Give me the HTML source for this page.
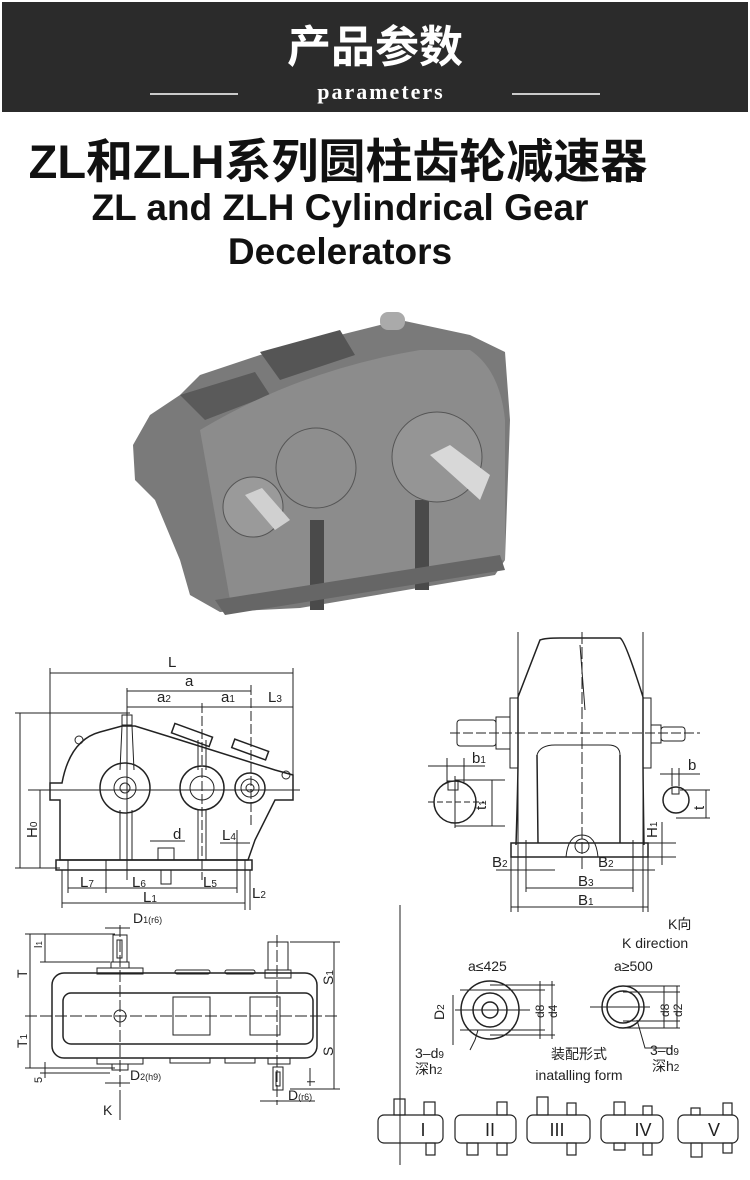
<!DOCTYPE html>
<html><head><meta charset="utf-8"><style>
html,body{margin:0;padding:0;background:#fff;}
svg{display:block;}
text{font-family:"Liberation Sans","Noto Sans CJK SC",sans-serif;fill:#222;}
</style></head><body>
<svg width="750" height="1180" viewBox="0 0 750 1180" xmlns="http://www.w3.org/2000/svg">
<rect x="0" y="0" width="750" height="1180" fill="#fff"/>
<!-- header -->
<rect x="2" y="2" width="746" height="110" fill="#2b2b2b"/>
<text x="375" y="62" text-anchor="middle" font-size="44" font-weight="bold" style="fill:#fff;font-family:'Noto Sans CJK SC',sans-serif">产品参数</text>
<text x="381" y="99" text-anchor="middle" font-size="22" font-weight="bold" letter-spacing="2" style="fill:#fff;font-family:'Liberation Serif',serif">parameters</text>
<line x1="150" y1="94" x2="238" y2="94" stroke="#fff" stroke-width="1.5"/>
<line x1="512" y1="94" x2="600" y2="94" stroke="#fff" stroke-width="1.5"/>
<!-- titles -->
<text x="338" y="178" text-anchor="middle" font-size="47" font-weight="bold" style="fill:#111;font-family:'Liberation Sans','Noto Sans CJK SC',sans-serif">ZL和ZLH系列圆柱齿轮减速器</text>
<text x="340" y="220" text-anchor="middle" font-size="37" font-weight="bold" style="fill:#111">ZL and ZLH Cylindrical Gear</text>
<text x="340" y="264" text-anchor="middle" font-size="37" font-weight="bold" style="fill:#111">Decelerators</text>
<!-- gearbox photo -->
<g>
<polygon points="133,445 150,415 180,395 200,375 260,355 300,345 380,325 400,320 470,335 505,352 510,420 505,560 495,575 300,608 220,612 190,595 180,560 155,500 135,480" fill="#7a7a7a"/>
<polygon points="180,395 255,372 270,395 205,420" fill="#5a5a5a"/>
<polygon points="260,352 340,330 355,355 280,380" fill="#555"/>
<path d="M200,430 Q300,370 420,350 L470,350 Q500,370 505,420 L505,560 L230,600 Z" fill="#8c8c8c"/>
<rect x="310" y="520" width="14" height="90" fill="#4a4a4a"/>
<rect x="415" y="500" width="14" height="90" fill="#4a4a4a"/>
<polygon points="215,600 500,555 505,570 225,615" fill="#666"/>
<circle cx="253" cy="507" r="30" fill="#9a9a9a" stroke="#555"/>
<circle cx="316" cy="468" r="40" fill="#8e8e8e" stroke="#555"/>
<circle cx="437" cy="457" r="45" fill="#959595" stroke="#555"/>
<polygon points="245,495 262,488 290,520 275,530" fill="#d0d0d0"/>
<polygon points="430,455 450,445 490,475 480,500" fill="#d8d8d8"/>
<rect x="380" y="312" width="25" height="18" rx="8" fill="#aaa"/>
</g>
<!-- ===== side view ===== -->
<g stroke="#222" stroke-width="1" fill="none">
<line x1="50" y1="673" x2="293" y2="673"/>
<line x1="127" y1="691" x2="251" y2="691"/>
<line x1="127" y1="707" x2="293" y2="707"/>
<line x1="50" y1="668" x2="50" y2="790"/>
<line x1="293" y1="668" x2="293" y2="800"/>
<line x1="127" y1="688" x2="127" y2="880"/>
<line x1="202" y1="703" x2="202" y2="880" stroke-dasharray="10,3"/>
<line x1="251" y1="685" x2="251" y2="825" stroke-dasharray="10,3"/>
<line x1="15" y1="713" x2="130" y2="713"/>
<line x1="20" y1="713" x2="20" y2="868"/>
<line x1="40" y1="790" x2="40" y2="868"/>
<line x1="15" y1="868" x2="60" y2="868"/>
<line x1="28" y1="790" x2="300" y2="790"/>
<path d="M50,800 L50,783 L62,783 Q70,740 100,732 L122,726 L135,726 L180,740 L275,770 L293,775 L293,800 L275,800 Q265,820 255,840 L248,860 L60,860 L60,800 Z" stroke-width="1.5"/>
<rect x="56" y="860" width="196" height="10" stroke-width="1.5"/>
<rect x="122" y="715" width="10" height="10"/>
<path d="M122,726 L120,770 M132,726 L134,770 M120,810 L120,860 M132,810 L132,860 M198,740 L198,770 M206,740 L206,770 M198,810 L198,860 M206,810 L206,860"/>
<rect x="172" y="730" width="40" height="10" transform="rotate(20 192 735)" stroke-width="1.5"/>
<rect x="232" y="745" width="36" height="9" transform="rotate(20 250 750)" stroke-width="1.5"/>
<circle cx="125" cy="788" r="25" stroke-width="1.5"/><circle cx="125" cy="788" r="11"/><circle cx="125" cy="788" r="5"/>
<circle cx="202" cy="788" r="22" stroke-width="1.5"/><circle cx="202" cy="788" r="12"/>
<circle cx="250" cy="788" r="15" stroke-width="1.5"/><circle cx="250" cy="788" r="9"/><circle cx="250" cy="788" r="4"/>
<circle cx="79" cy="740" r="4"/><circle cx="286" cy="775" r="4"/>
<rect x="158" y="848" width="16" height="12"/><rect x="161" y="870" width="10" height="14"/>
<line x1="68" y1="888" x2="237" y2="888"/>
<line x1="62" y1="903" x2="245" y2="903"/>
<line x1="68" y1="860" x2="68" y2="893"/><line x1="106" y1="860" x2="106" y2="893"/>
<line x1="237" y1="830" x2="237" y2="893"/><line x1="245" y1="860" x2="245" y2="910"/>
<line x1="62" y1="870" x2="62" y2="908"/><line x1="250" y1="870" x2="250" y2="910"/>
<line x1="150" y1="841" x2="185" y2="841"/><line x1="220" y1="843" x2="250" y2="843"/>
</g>
<g font-size="15">
<text x="168" y="667">L</text><text x="185" y="686">a</text>
<text x="157" y="702">a<tspan font-size="10">2</tspan></text><text x="221" y="702">a<tspan font-size="10">1</tspan></text><text x="268" y="702">L<tspan font-size="10">3</tspan></text>
<text x="173" y="839">d</text><text x="222" y="840">L<tspan font-size="10">4</tspan></text>
<text x="80" y="887">L<tspan font-size="10">7</tspan></text><text x="132" y="887">L<tspan font-size="10">6</tspan></text><text x="203" y="887">L<tspan font-size="10">5</tspan></text>
<text x="143" y="902">L<tspan font-size="10">1</tspan></text><text x="252" y="898">L<tspan font-size="10">2</tspan></text>
<text transform="translate(37,838) rotate(-90)">H<tspan font-size="10">0</tspan></text>
</g>
<!-- ===== front view ===== -->
<g stroke="#222" stroke-width="1" fill="none">
<line x1="518" y1="632" x2="518" y2="912"/><line x1="643" y1="632" x2="643" y2="912"/>
<path d="M518,697 L540,640 Q545,638 560,638 L620,638 Q625,640 643,697" stroke-width="1.5"/>
<path d="M518,697 L518,760 Q518,780 516,845 M643,697 L643,760 Q643,780 644,845" stroke-width="1.5"/>
<path d="M537,755 L538,843 M620,755 L620,843" stroke-width="1.5"/>
<path d="M537,755 Q540,745 555,745 L608,745 Q620,745 620,755"/>
<rect x="511" y="843" width="137" height="14" stroke-width="1.5"/>
<path d="M566,857 Q568,835 582,835 Q596,835 598,857"/><circle cx="582" cy="846" r="7"/>
<rect x="510" y="698" width="8" height="70"/><rect x="643" y="698" width="8" height="70"/>
<rect x="496" y="717" width="14" height="32"/><rect x="457" y="720" width="39" height="26" rx="3"/>
<rect x="651" y="725" width="10" height="18"/><rect x="661" y="727" width="24" height="14" rx="3"/>
<line x1="450" y1="733" x2="700" y2="733" stroke-dasharray="10,3"/>
<line x1="582" y1="632" x2="582" y2="870" stroke-dasharray="12,3"/>
<line x1="580" y1="645" x2="585" y2="710"/>
<circle cx="455" cy="802" r="21" stroke-width="1.5"/>
<circle cx="676" cy="800" r="13" stroke-width="1.5"/>
<path d="M448,781 L458,781 L458,790 L448,790 Z M672,787 L679,787 L679,794 L672,794 Z"/>
<line x1="428" y1="802" x2="484" y2="802" stroke-dasharray="6,3"/>
<line x1="455" y1="776" x2="455" y2="828"/>
<line x1="428" y1="766" x2="485" y2="766"/><line x1="447" y1="758" x2="447" y2="782"/><line x1="464" y1="758" x2="464" y2="782"/>
<line x1="492" y1="780" x2="492" y2="826"/><line x1="455" y1="780" x2="505" y2="780"/><line x1="455" y1="826" x2="505" y2="826"/>
<line x1="660" y1="774" x2="700" y2="774"/><line x1="672" y1="768" x2="672" y2="786"/><line x1="679" y1="768" x2="679" y2="786"/>
<line x1="706" y1="790" x2="706" y2="818"/><line x1="680" y1="790" x2="710" y2="790"/><line x1="676" y1="818" x2="710" y2="818"/>
<line x1="662" y1="822" x2="662" y2="865"/><line x1="648" y1="843" x2="676" y2="843"/><line x1="648" y1="857" x2="676" y2="857"/>
<line x1="496" y1="870" x2="555" y2="870"/><line x1="600" y1="870" x2="655" y2="870"/>
<line x1="526" y1="888" x2="633" y2="888"/><line x1="526" y1="840" x2="526" y2="892"/><line x1="633" y1="840" x2="633" y2="892"/>
<line x1="511" y1="907" x2="648" y2="907"/><line x1="511" y1="857" x2="511" y2="912"/><line x1="648" y1="857" x2="648" y2="912"/>
</g>
<g font-size="15">
<text x="472" y="763">b<tspan font-size="10">1</tspan></text><text x="688" y="770">b</text>
<text transform="translate(486,810) rotate(-90)">t<tspan font-size="10">1</tspan></text>
<text transform="translate(704,810) rotate(-90)">t</text>
<text transform="translate(657,838) rotate(-90)">H<tspan font-size="10">1</tspan></text>
<text x="492" y="867">B<tspan font-size="10">2</tspan></text><text x="598" y="867">B<tspan font-size="10">2</tspan></text>
<text x="578" y="886">B<tspan font-size="10">3</tspan></text><text x="578" y="905">B<tspan font-size="10">1</tspan></text>
</g>
<!-- ===== top view ===== -->
<g stroke="#222" stroke-width="1" fill="none">
<rect x="52" y="973" width="265" height="85" rx="12" stroke-width="1.5"/>
<rect x="63" y="993" width="250" height="51" rx="8" stroke-width="1.5"/>
<line x1="25" y1="1016" x2="340" y2="1016" stroke-dasharray="12,3"/>
<rect x="97" y="968" width="46" height="6"/><rect x="111" y="962" width="18" height="6"/>
<rect x="113" y="935" width="14" height="27"/><rect x="117" y="940" width="5" height="18"/>
<rect x="268" y="942" width="20" height="28"/><rect x="265" y="970" width="26" height="8"/>
<rect x="175" y="970" width="35" height="4" rx="2"/><rect x="225" y="970" width="30" height="4" rx="2"/>
<rect x="97" y="1058" width="46" height="6"/><rect x="112" y="1064" width="16" height="6"/>
<rect x="268" y="1058" width="22" height="6"/><rect x="273" y="1067" width="10" height="23"/><rect x="276" y="1072" width="4" height="14"/>
<rect x="170" y="1058" width="40" height="5"/><rect x="225" y="1058" width="30" height="5"/>
<circle cx="120" cy="1016" r="6"/>
<rect x="173" y="997" width="37" height="38"/><rect x="250" y="997" width="30" height="38"/>
<line x1="120" y1="925" x2="120" y2="1120" stroke-dasharray="12,3"/>
<line x1="277" y1="935" x2="277" y2="1105" stroke-dasharray="12,3"/>
<line x1="25" y1="934" x2="115" y2="934"/><line x1="25" y1="1068" x2="115" y2="1068"/>
<line x1="30" y1="934" x2="30" y2="1068"/><line x1="45" y1="934" x2="45" y2="962"/><line x1="40" y1="962" x2="110" y2="962"/>
<line x1="45" y1="1062" x2="45" y2="1078"/><line x1="40" y1="1073" x2="110" y2="1073"/>
<line x1="290" y1="942" x2="340" y2="942"/><line x1="290" y1="1089" x2="340" y2="1089"/>
<line x1="334" y1="942" x2="334" y2="1089"/>
<line x1="105" y1="928" x2="130" y2="928"/><line x1="105" y1="1083" x2="130" y2="1083"/>
<line x1="260" y1="1101" x2="315" y2="1101"/><line x1="310" y1="1068" x2="310" y2="1086"/>
<line x1="120" y1="1100" x2="120" y2="1120"/>
</g>
<g font-size="14">
<text x="133" y="923">D<tspan font-size="9">1(r6)</tspan></text>
<text x="130" y="1080">D<tspan font-size="9">2(h9)</tspan></text>
<text x="288" y="1100">D<tspan font-size="9">(r6)</tspan></text>
<text x="103" y="1115">K</text>
<text transform="translate(27,978) rotate(-90)">T</text>
<text transform="translate(27,1048) rotate(-90)">T<tspan font-size="10">1</tspan></text>
<text transform="translate(42,948) rotate(-90)" font-size="11">l<tspan font-size="8">1</tspan></text>
<text transform="translate(42,1083) rotate(-90)" font-size="11">5</text>
<text transform="translate(333,985) rotate(-90)">S<tspan font-size="10">1</tspan></text>
<text transform="translate(333,1056) rotate(-90)">S</text>
<text transform="translate(315,1083) rotate(-90)" font-size="11">l</text>
</g>
<!-- ===== K direction ===== -->
<g stroke="#222" stroke-width="1" fill="none">
<line x1="400" y1="905" x2="400" y2="1165"/>
<circle cx="490" cy="1010" r="29" stroke-width="1.5"/><circle cx="490" cy="1010" r="17" stroke-width="1.5"/><circle cx="490" cy="1010" r="8" stroke-width="1.5"/>
<line x1="455" y1="1010" x2="530" y2="1010"/>
<line x1="490" y1="985" x2="555" y2="985"/><line x1="490" y1="1035" x2="555" y2="1035"/>
<line x1="460" y1="990" x2="545" y2="990"/><line x1="460" y1="1030" x2="545" y2="1030"/>
<line x1="540" y1="981" x2="540" y2="1039"/><line x1="552" y1="981" x2="552" y2="1039"/>
<line x1="453" y1="995" x2="453" y2="1045"/>
<path d="M470,1050 L475,1040 L478,1030" />
<circle cx="623" cy="1007" r="21" stroke-width="1.5"/><circle cx="623" cy="1007" r="16" stroke-width="1.5"/>
<line x1="590" y1="1007" x2="650" y2="1007"/>
<line x1="623" y1="992" x2="680" y2="992"/><line x1="623" y1="1021" x2="680" y2="1021"/>
<line x1="623" y1="986" x2="680" y2="986"/><line x1="623" y1="1028" x2="680" y2="1028"/>
<line x1="664" y1="986" x2="664" y2="1028"/><line x1="677" y1="986" x2="677" y2="1028"/>
<path d="M637,1020 L645,1048 L672,1048"/>
</g>
<g font-size="14">
<text x="668" y="929">K向</text>
<text x="622" y="948">K direction</text>
<text x="468" y="971">a≤425</text><text x="614" y="971">a≥500</text>
<text transform="translate(444,1020) rotate(-90)">D<tspan font-size="10">2</tspan></text>
<text transform="translate(544,1018) rotate(-90)" font-size="12">d8</text>
<text transform="translate(557,1018) rotate(-90)" font-size="12">d4</text>
<text transform="translate(669,1017) rotate(-90)" font-size="12">d8</text>
<text transform="translate(682,1017) rotate(-90)" font-size="12">d2</text>
<text x="415" y="1058">3–d<tspan font-size="10">9</tspan></text>
<text x="415" y="1074">深h<tspan font-size="10">2</tspan></text>
<text x="650" y="1055">3–d<tspan font-size="10">9</tspan></text>
<text x="652" y="1071">深h<tspan font-size="10">2</tspan></text>
<text x="579" y="1059" text-anchor="middle">装配形式</text>
<text x="579" y="1080" text-anchor="middle">inatalling form</text>
</g>
<g stroke="#222" stroke-width="1.2" fill="none">
<rect x="378" y="1115" width="65" height="28" rx="6"/>
<rect x="394" y="1099" width="11" height="16"/><rect x="424" y="1102" width="11" height="13"/><rect x="426" y="1143" width="9" height="12"/>
<rect x="455" y="1115" width="61" height="28" rx="6"/>
<rect x="497" y="1102" width="10" height="13"/><rect x="467" y="1143" width="11" height="12"/><rect x="497" y="1143" width="10" height="12"/>
<rect x="527" y="1115" width="63" height="28" rx="6"/>
<rect x="537" y="1097" width="11" height="18"/><rect x="567" y="1103" width="9" height="12"/><rect x="567" y="1143" width="9" height="12"/>
<rect x="601" y="1115" width="62" height="28" rx="6"/>
<rect x="614" y="1102" width="11" height="13"/><rect x="643" y="1106" width="9" height="9"/><rect x="614" y="1143" width="11" height="7"/><rect x="643" y="1143" width="9" height="12"/>
<rect x="678" y="1115" width="60" height="28" rx="6"/>
<rect x="691" y="1108" width="9" height="7"/><rect x="723" y="1103" width="9" height="12"/><rect x="691" y="1143" width="11" height="14"/><rect x="723" y="1143" width="9" height="10"/>
</g>
<g font-size="18" text-anchor="middle">
<text x="423" y="1136">I</text><text x="490" y="1136">II</text><text x="557" y="1136">III</text><text x="643" y="1136">IV</text><text x="714" y="1136">V</text>
</g>
</svg>
</body></html>
